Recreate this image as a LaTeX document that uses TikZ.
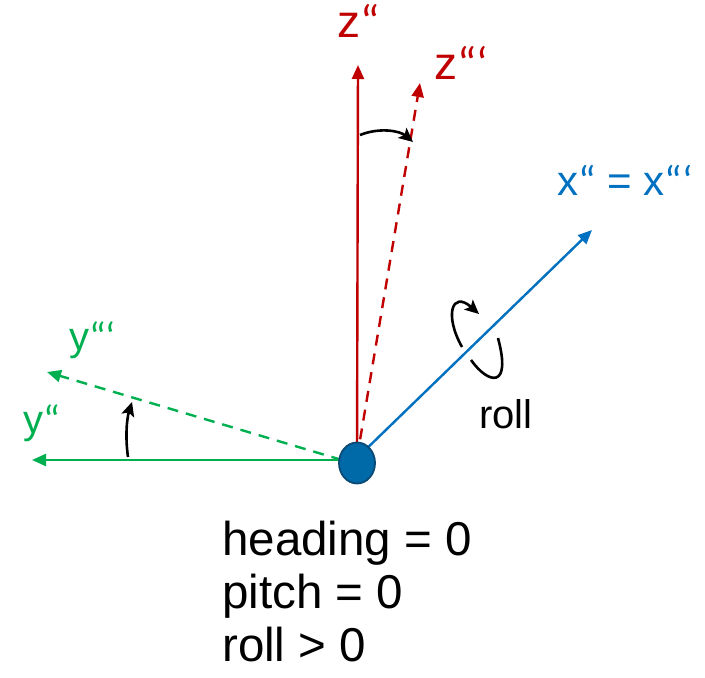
\documentclass[tikz,border=0pt]{standalone}
\usepackage{fontspec}
\setmainfont{Liberation Sans}
\newfontfamily\lblfont{Carlito}
\newcommand\mkqa{{\lblfont “}}
\newcommand\mkqb{{\lblfont “‘}}
\usetikzlibrary{arrows.meta,shapes.geometric}
\definecolor{zred}{HTML}{C00000}
\definecolor{ygreen}{HTML}{00B050}
\definecolor{xblue}{HTML}{0070C0}
\definecolor{ofill}{HTML}{0069A8}
\definecolor{oedge}{HTML}{0B4A75}
\tikzset{
  axis/.style={line width=2.4pt,-{Triangle[length=14pt,width=12pt]}},
  dashaxis/.style={axis,dash pattern=on 11pt off 8pt},
  rot/.style={line width=2.6pt,black,-{Stealth[length=14pt,width=13pt,inset=3pt]}},
  rotnt/.style={line width=2.6pt,black},
  lbl/.style={anchor=base west,inner sep=0pt,font=\fontsize{46}{50}\selectfont},
  xlbl/.style={lbl,font=\fontsize{42}{46}\selectfont},
  ylbl/.style={lbl,font=\fontsize{40}{44}\selectfont},
  info/.style={anchor=base west,inner sep=0pt,font=\fontsize{47.5}{52}\selectfont}
}
\begin{document}
\begin{tikzpicture}[x=1pt,y=-1pt]
\useasboundingbox (0,0) rectangle (705,678);
\coordinate (O) at (357,458);
\coordinate (zt) at (358,65);
\coordinate (zzt) at (420,83);
\coordinate (yt) at (32,460);
\coordinate (yyt) at (47,372);
\coordinate (xt) at (592,230);
\coordinate (Oy) at (342,460);
\draw[axis,zred] (O) -- (zt);
\draw[dashaxis,zred] (O) -- (zzt);
\draw[axis,ygreen] (Oy) -- (yt);
\draw[dashaxis,ygreen] (Oy) -- (yyt);
\draw[axis,xblue] (O) -- (xt);
\node[draw=oedge,fill=ofill,line width=1.8pt,ellipse,minimum width=36pt,minimum height=41pt,inner sep=0pt] (o) at (357,463) {};
% rotation arrows
\coordinate (za) at (360,135);
\coordinate (zb) at (413,142);
\draw[rot] (za) .. controls (380,127) and (400,131) .. (zb);
\coordinate (ya) at (128,457);
\coordinate (yb) at (132,402);
\draw[rot] (ya) .. controls (125,436) and (127,418) .. (yb);
\coordinate (ra) at (462,347);
\coordinate (rb) at (479,314);
\draw[rot] (ra) .. controls (444,315) and (452,290) .. (rb);
\coordinate (rc) at (471,360);
\coordinate (rd) at (498,338);
\draw[rotnt] (rc) .. controls (488,384) and (512,390) .. (rd);
% labels
\node[lbl,text=zred] (lz) at (337,37) {z\mkqa};
\node[lbl,text=zred] (lzz) at (434,79) {z\mkqb};
\node[xlbl,text=xblue] (lx) at (557,195) {x\mkqa{} = x\mkqb};
\node[ylbl,text=ygreen] (lyy) at (69,350) {y\mkqb};
\node[ylbl,text=ygreen] (ly) at (23,433) {y\mkqa};
\node[lbl,font=\fontsize{40}{44}\selectfont] (lroll) at (479,428) {roll};
\node[info] (h) at (222,555) {heading = 0};
\node[info] (p) at (222,608) {pitch = 0};
\node[info] (r) at (222,661) {roll > 0};
\end{tikzpicture}
\end{document}
